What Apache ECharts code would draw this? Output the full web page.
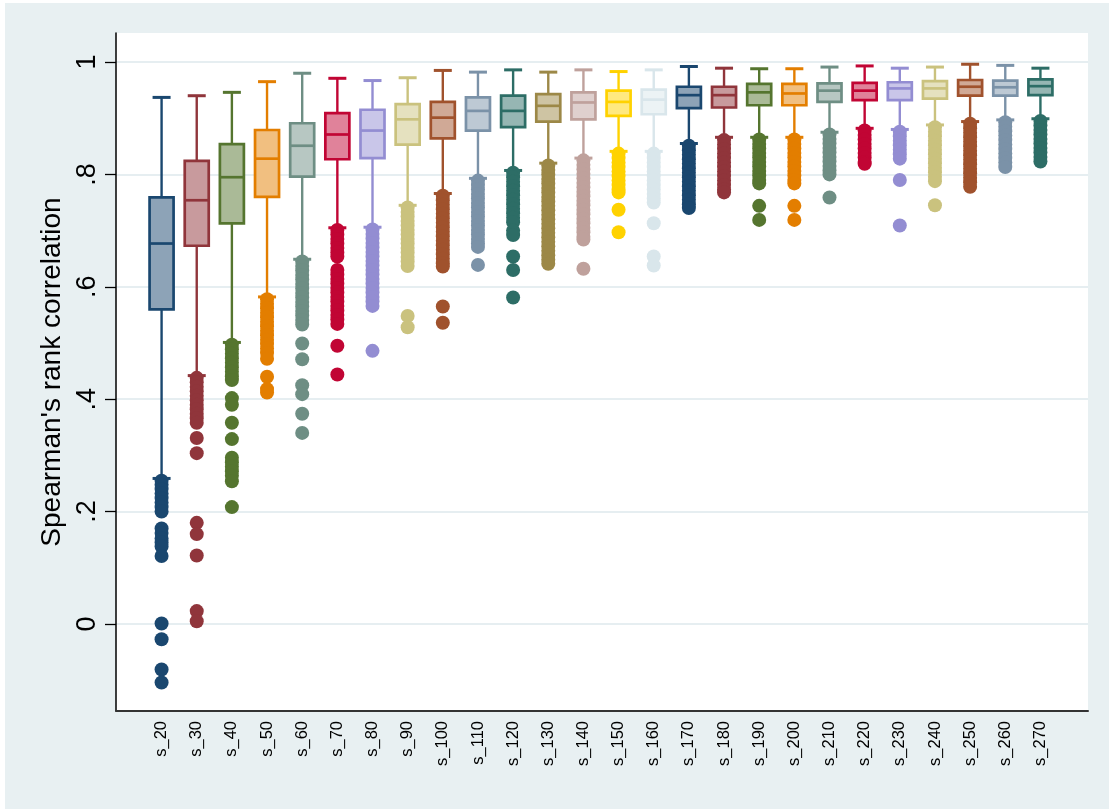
<!DOCTYPE html>
<html><head><meta charset="utf-8">
<script src="https://cdn.jsdelivr.net/npm/echarts@6/dist/echarts.min.js"></script>
<style>html,body{margin:0;padding:0;background:#fff}#c{width:1109px;height:809px}</style>
</head><body><div id="c"></div>
<script>
const categories = ['s_20','s_30','s_40','s_50','s_60','s_70','s_80','s_90','s_100','s_110','s_120','s_130','s_140','s_150','s_160','s_170','s_180','s_190','s_200','s_210','s_220','s_230','s_240','s_250','s_260','s_270'];
const lowerWhisker = [0.259,0.442,0.501,0.582,0.649,0.705,0.706,0.745,0.766,0.793,0.807,0.820,0.829,0.841,0.841,0.855,0.866,0.866,0.866,0.875,0.882,0.880,0.888,0.894,0.897,0.899];
const q1 = [0.560,0.673,0.713,0.760,0.796,0.827,0.829,0.853,0.864,0.878,0.884,0.894,0.898,0.904,0.907,0.918,0.919,0.923,0.923,0.929,0.932,0.932,0.935,0.940,0.940,0.941];
const median = [0.677,0.754,0.795,0.828,0.851,0.871,0.878,0.898,0.901,0.913,0.913,0.922,0.928,0.929,0.933,0.941,0.941,0.946,0.944,0.949,0.949,0.953,0.953,0.956,0.955,0.957];
const q3 = [0.759,0.824,0.854,0.879,0.891,0.909,0.915,0.925,0.929,0.937,0.940,0.943,0.946,0.949,0.951,0.956,0.956,0.961,0.961,0.962,0.963,0.964,0.966,0.968,0.967,0.969];
const upperWhisker = [0.937,0.940,0.946,0.965,0.980,0.971,0.967,0.972,0.985,0.982,0.986,0.982,0.986,0.983,0.986,0.992,0.989,0.988,0.988,0.991,0.993,0.989,0.991,0.996,0.994,0.989];
const outliers = [
  [0.255,0.248,0.24,0.232,0.224,0.216,0.208,0.2,0.17,0.162,0.152,0.145,0.138,0.121,0.001,-0.027,-0.081,-0.104],
  [0.438,0.43,0.422,0.414,0.406,0.398,0.39,0.382,0.374,0.366,0.358,0.331,0.304,0.18,0.16,0.122,0.023,0.005],
  [0.497,0.489,0.481,0.473,0.465,0.457,0.449,0.441,0.434,0.402,0.39,0.358,0.329,0.296,0.288,0.28,0.272,0.264,0.254,0.208],
  [0.578,0.57,0.562,0.554,0.546,0.538,0.53,0.522,0.514,0.506,0.498,0.49,0.482,0.472,0.44,0.418,0.412],
  [0.645,0.637,0.629,0.621,0.613,0.605,0.597,0.589,0.581,0.573,0.565,0.557,0.549,0.541,0.533,0.499,0.471,0.425,0.409,0.374,0.34],
  [0.701,0.693,0.685,0.677,0.669,0.661,0.654,0.63,0.622,0.614,0.606,0.598,0.59,0.582,0.574,0.566,0.558,0.55,0.542,0.534,0.495,0.444],
  [0.702,0.694,0.686,0.678,0.67,0.662,0.654,0.646,0.638,0.63,0.622,0.614,0.606,0.598,0.59,0.582,0.574,0.566,0.486],
  [0.741,0.733,0.725,0.717,0.709,0.701,0.693,0.685,0.677,0.669,0.661,0.653,0.645,0.637,0.548,0.528],
  [0.762,0.754,0.746,0.738,0.73,0.722,0.714,0.706,0.698,0.69,0.682,0.674,0.666,0.658,0.65,0.642,0.636,0.565,0.536],
  [0.789,0.781,0.773,0.765,0.757,0.749,0.741,0.733,0.725,0.717,0.709,0.701,0.693,0.685,0.677,0.671,0.639],
  [0.803,0.795,0.787,0.779,0.771,0.763,0.755,0.747,0.739,0.731,0.723,0.715,0.7,0.692,0.654,0.63,0.581],
  [0.816,0.808,0.8,0.792,0.784,0.776,0.768,0.76,0.752,0.744,0.736,0.728,0.72,0.712,0.704,0.696,0.688,0.68,0.672,0.664,0.656,0.648,0.641],
  [0.825,0.817,0.809,0.801,0.793,0.785,0.777,0.769,0.761,0.753,0.745,0.737,0.729,0.721,0.713,0.705,0.697,0.689,0.684,0.632],
  [0.837,0.829,0.821,0.813,0.805,0.797,0.789,0.781,0.773,0.768,0.737,0.697],
  [0.837,0.829,0.821,0.813,0.805,0.797,0.789,0.781,0.773,0.765,0.757,0.75,0.713,0.654,0.638],
  [0.851,0.843,0.835,0.827,0.819,0.811,0.803,0.795,0.787,0.779,0.771,0.763,0.755,0.747,0.74],
  [0.861,0.853,0.845,0.837,0.829,0.821,0.813,0.805,0.797,0.789,0.781,0.773,0.768],
  [0.862,0.854,0.846,0.838,0.83,0.822,0.814,0.806,0.798,0.79,0.784,0.744,0.719],
  [0.862,0.854,0.846,0.838,0.83,0.822,0.814,0.806,0.798,0.79,0.784,0.744,0.719],
  [0.871,0.863,0.855,0.847,0.839,0.831,0.823,0.815,0.807,0.8,0.759],
  [0.878,0.87,0.862,0.854,0.846,0.838,0.83,0.822,0.819],
  [0.876,0.868,0.86,0.852,0.844,0.836,0.828,0.79,0.709],
  [0.884,0.876,0.868,0.86,0.852,0.844,0.836,0.828,0.82,0.812,0.804,0.796,0.788,0.745],
  [0.89,0.882,0.874,0.866,0.858,0.85,0.842,0.834,0.826,0.818,0.81,0.802,0.794,0.786,0.778],
  [0.893,0.885,0.877,0.869,0.861,0.853,0.845,0.837,0.829,0.821,0.813],
  [0.895,0.887,0.879,0.871,0.863,0.855,0.847,0.839,0.831,0.823]
];
const yTickValues = [0, 0.2, 0.4, 0.6, 0.8, 1];
const yTickLabels = ['0', '.2', '.4', '.6', '.8', '1'];
const yTitle = "Spearman's rank correlation";

const palette = ['#1a476f','#90353b','#55752f','#e37e00','#6e8e84','#c10534','#938dd2','#cac27e','#a0522d','#7b92a8','#2d6d66','#9c8847','#bfa19c','#ffd200','#d9e6eb',
                 '#1a476f','#90353b','#55752f','#e37e00','#6e8e84','#c10534','#938dd2','#cac27e','#a0522d','#7b92a8','#2d6d66'];
function lighten(hex){
  const n = parseInt(hex.slice(1),16);
  const r=(n>>16)&255,g=(n>>8)&255,b=n&255;
  const f=c=>Math.round((c+255)/2).toString(16).padStart(2,'0');
  return '#'+f(r)+f(g)+f(b);
}
const FONT = "'Liberation Sans', Arial, Helvetica, sans-serif";
const YMIN = -0.1548, YMAX = 1.0516;

const boxData = categories.map((c,i)=>[i, lowerWhisker[i], q1[i], median[i], q3[i], upperWhisker[i]]);
const outlierData = [];
outliers.forEach((arr,i)=>arr.forEach(v=>outlierData.push([i, v])));

function renderBox(params, api){
  const i = api.value(0);
  const pLow = api.coord([i, api.value(1)]);
  const pQ1 = api.coord([i, api.value(2)]);
  const pMed = api.coord([i, api.value(3)]);
  const pQ3 = api.coord([i, api.value(4)]);
  const pHigh = api.coord([i, api.value(5)]);
  const x = pMed[0];
  const bw = 24, cw = 18;
  const col = palette[i];
  const ls = {stroke: col, lineWidth: 2.4};
  return {type:'group', children:[
    {type:'line', shape:{x1:x,y1:pQ3[1],x2:x,y2:pHigh[1]}, style:ls},
    {type:'line', shape:{x1:x,y1:pQ1[1],x2:x,y2:pLow[1]}, style:ls},
    {type:'line', shape:{x1:x-cw/2,y1:pHigh[1],x2:x+cw/2,y2:pHigh[1]}, style:{stroke:col,lineWidth:3}},
    {type:'line', shape:{x1:x-cw/2,y1:pLow[1],x2:x+cw/2,y2:pLow[1]}, style:{stroke:col,lineWidth:3}},
    {type:'rect', shape:{x:x-bw/2,y:pQ3[1],width:bw,height:pQ1[1]-pQ3[1]}, style:{fill:lighten(col),stroke:col,lineWidth:2.7}},
    {type:'line', shape:{x1:x-bw/2,y1:pMed[1],x2:x+bw/2,y2:pMed[1]}, style:{stroke:col,lineWidth:2.7}}
  ]};
}

const chart = echarts.init(document.getElementById('c'), null, {renderer:'canvas'});
chart.setOption({
  animation:false,
  backgroundColor:'#e8f0f2',
  textStyle:{fontFamily:FONT},
  graphic:[
    {type:'rect', z:100, shape:{x:0,y:0,width:5,height:809}, style:{fill:'#fff'}},
    {type:'rect', z:100, shape:{x:0,y:0,width:1109,height:3}, style:{fill:'#fff'}}
  ],
  grid:[
    {left:116, right:21, top:33, bottom:98, show:true, backgroundColor:'#fff', borderWidth:0},
    {left:144, right:51, top:33, bottom:98}
  ],
  xAxis:[
    {gridIndex:0, type:'value', min:0, max:1, axisLine:{show:true, onZero:false, lineStyle:{color:'#333', width:2}}, axisTick:{show:false}, axisLabel:{show:false}, splitLine:{show:false}},
    {gridIndex:1, type:'category', data:categories, boundaryGap:true, axisLine:{show:false}, axisTick:{show:false}, splitLine:{show:false},
     axisLabel:{interval:0, rotate:90, fontSize:16.5, color:'#000', margin:10, fontFamily:FONT}}
  ],
  yAxis:[
    {gridIndex:0, type:'value', min:YMIN, max:YMAX,
     axisLine:{show:true, lineStyle:{color:'#000', width:1.5}},
     axisTick:{show:true, length:11, customValues:yTickValues, lineStyle:{color:'#000', width:1.3}},
     axisLabel:{customValues:yTickValues, rotate:90, fontSize:27, color:'#000', margin:15, fontFamily:FONT,
       formatter:v=>{const k=yTickValues.findIndex(t=>Math.abs(t-v)<1e-9); return k>=0?yTickLabels[k]:'';}},
     splitLine:{show:true, lineStyle:{color:'#e6eef1', width:2}},
     name:yTitle, nameLocation:'middle', nameRotate:90, nameGap:49,
     nameTextStyle:{fontSize:28, color:'#000', fontFamily:FONT}},
    {gridIndex:1, type:'value', min:YMIN, max:YMAX, show:false, splitLine:{show:false}}
  ],
  series:[
    {type:'custom', xAxisIndex:1, yAxisIndex:1, data:boxData, renderItem:renderBox, encode:{x:0, y:[1,2,3,4,5]}},
    {type:'scatter', xAxisIndex:1, yAxisIndex:1, data:outlierData, symbol:'circle', symbolSize:14,
     itemStyle:{color:p=>palette[p.value[0]], opacity:1}}
  ]
});
</script></body></html>
